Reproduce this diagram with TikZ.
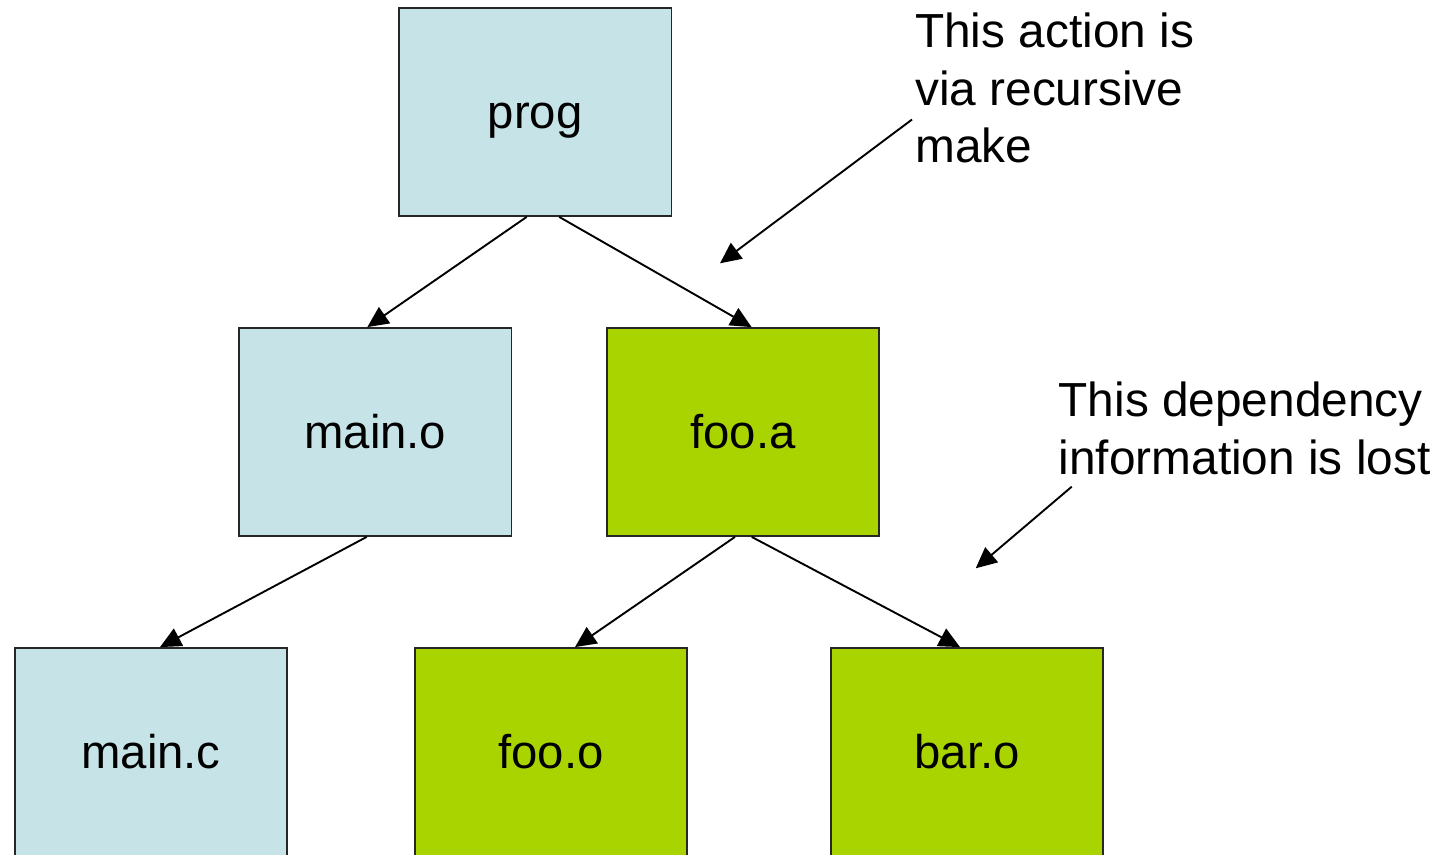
\documentclass[tikz,border=0pt]{standalone}
\usepackage{fontspec}
\setmainfont{Liberation Sans}
\usetikzlibrary{arrows.meta,calc}
\definecolor{boxblue}{RGB}{198,228,232}
\definecolor{boxgreen}{RGB}{170,212,0}
\tikzset{
  box/.style={draw=black!85,line width=1.8pt,minimum width=272.5pt,minimum height=208pt,
    inner sep=0pt,font=\fontsize{47.3}{57.7}\selectfont,text height=42pt,text depth=10pt},
  bluebox/.style={box,fill=boxblue},
  greenbox/.style={box,fill=boxgreen},
  conn/.style={line width=1.9pt,-{Triangle[length=21pt,width=19.5pt]}},
  note/.style={align=left,anchor=base west,inner sep=0pt,font=\fontsize{47.8}{57.7}\selectfont}
}
\begin{document}
\begin{tikzpicture}[x=1pt,y=-1pt]
\useasboundingbox (0,0) rectangle (1455,854);
\clip (0,0) rectangle (1455,854);
\node[bluebox] (prog) at (535.2,112) {prog};
\node[bluebox] (maino) at (375.3,432) {main.o};
\node[greenbox] (fooa) at (743,432) {foo.a};
\node[bluebox] (mainc) at (151,752) {main.c};
\node[greenbox] (fooo) at (551,752) {foo.o};
\node[greenbox] (baro) at (967,752) {bar.o};

\draw[conn] ($(prog.south)+(-8.5,0)$) -- ($(maino.north)+(-8,0)$);
\draw[conn] ($(prog.south)+(24,0)$) -- ($(fooa.north)+(8.6,0)$);
\draw[conn] ($(maino.south)+(-8.6,0)$) -- ($(mainc.north)+(9,0)$);
\draw[conn] ($(fooa.south)+(-8,0)$) -- ($(fooo.north)+(24,0)$);
\draw[conn] ($(fooa.south)+(8.7,0)$) -- ($(baro.north)+(-7,0)$);

\node[note] (n1) at (915,162.9) {This action is\\via recursive\\make};
\node[note] (n2) at (1058.5,474.4) {This dependency\\information is lost};
\coordinate (a1s) at (912,119.5);
\coordinate (a1e) at (720,263.3);
\coordinate (a2s) at (1071.7,486.7);
\coordinate (a2e) at (975.7,568.3);
\draw[conn] (a1s) -- (a1e);
\draw[conn] (a2s) -- (a2e);
\end{tikzpicture}
\end{document}
